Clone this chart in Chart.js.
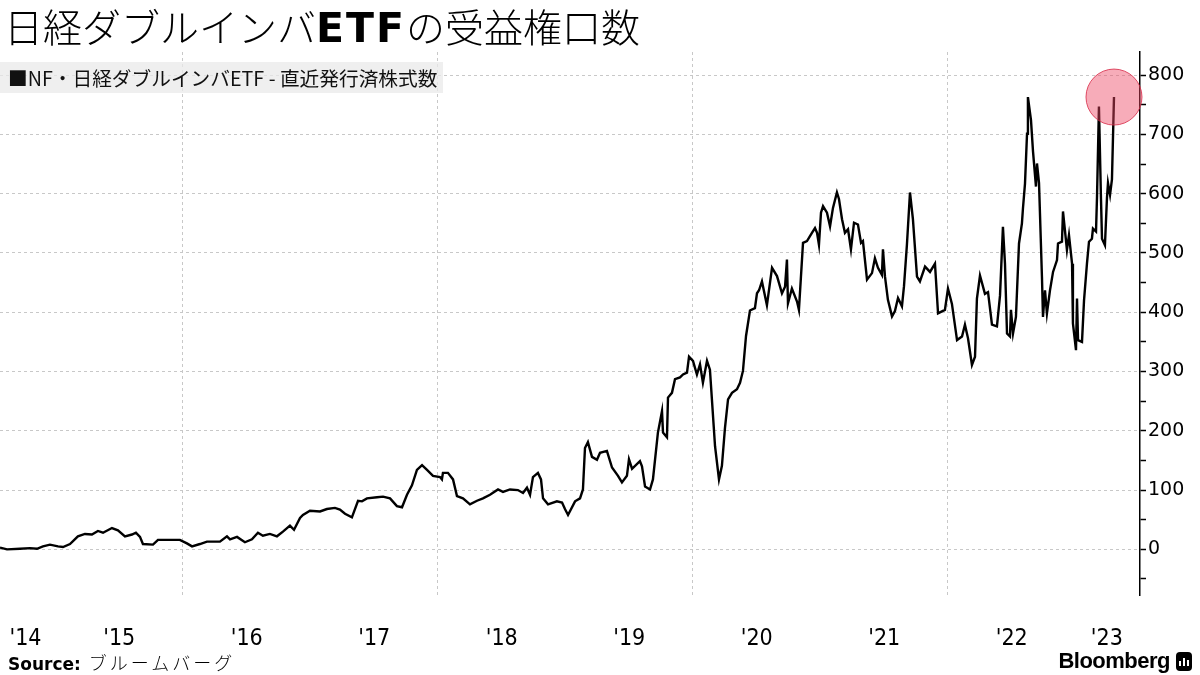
<!DOCTYPE html>
<html lang="ja">
<head>
  <meta charset="UTF-8">
  <title>日経ダブルインバETFの受益権口数</title>
  <script src="https://cdn.jsdelivr.net/npm/chart.js"></script>
  <style>
    body {
      margin: 0;
      width: 1200px;
      height: 675px;
      background: #fff;
      overflow: hidden;
      position: relative;
      font-family: 'Noto Sans CJK JP', sans-serif;
    }
    #wrap {
      position: absolute;
      left: 0;
      top: 0;
      width: 1200px;
      height: 675px;
    }
    .title {
      position: absolute;
      left: 4px;
      top: 0;
      font-size: 39px;
      line-height: 50px;
      font-weight: 300;
      color: #000;
      white-space: nowrap;
    }
    .title b {
      font-family: 'DejaVu Sans', sans-serif;
      font-weight: bold;
      font-size: 41px;
      letter-spacing: 2px;
    }
    .legend {
      position: absolute;
      left: 0;
      top: 62px;
      width: 443px;
      height: 31px;
      padding-left: 8px;
      box-sizing: border-box;
      background: rgba(234, 234, 234, 0.75);
      font-size: 19.7px;
      line-height: 31px;
      color: #111;
      white-space: nowrap;
    }
    .source {
      position: absolute;
      left: 8px;
      top: 650px;
      font-size: 18px;
      line-height: 24px;
      white-space: nowrap;
    }
    .source b {
      font-family: 'DejaVu Sans', sans-serif;
      font-size: 17px;
      margin-right: 8px;
    }
    .source span { letter-spacing: 3px; font-weight: 300; }
    .brand {
      position: absolute;
      right: 8px;
      top: 648px;
      font-family: 'Liberation Sans', Arial, sans-serif;
      font-weight: bold;
      font-size: 22px;
      line-height: 26px;
      letter-spacing: -0.5px;
      white-space: nowrap;
    }
    .logo {
      display: inline-block;
      width: 16px;
      height: 19px;
      margin-left: 6px;
      background: #000;
      border-radius: 4px;
      vertical-align: -3px;
      position: relative;
    }
    .logo i {
      position: absolute;
      bottom: 5px;
      width: 2px;
      background: #fff;
    }
  </style>
</head>
<body>
  <div id="wrap"><canvas id="chart"></canvas></div>
  <div class="title">日経ダブルインバ<b>ETF</b>の受益権口数</div>
  <div class="legend">■NF・日経ダブルインバETF - 直近発行済株式数</div>
  <div class="source"><b>Source:</b><span>ブルームバーグ</span></div>
  <div class="brand">Bloomberg<span class="logo"><i style="left:3px;height:5px"></i><i style="left:7px;height:8px"></i><i style="left:11px;height:6px"></i></span></div>

  <script>
    // dates as decimal years
    const dates = [
      2014.565, 2014.620, 2014.722, 2014.800, 2014.855, 2014.902, 2014.957, 2015.020, 2015.059, 2015.114,
      2015.176, 2015.231, 2015.286, 2015.333, 2015.373, 2015.443, 2015.490, 2015.545, 2015.600, 2015.631,
      2015.663, 2015.686, 2015.765, 2015.804, 2015.976, 2016.031, 2016.071, 2016.133, 2016.188, 2016.290,
      2016.345, 2016.369, 2016.424, 2016.486, 2016.541, 2016.588, 2016.627, 2016.682, 2016.737, 2016.784,
      2016.839, 2016.871, 2016.918, 2016.941, 2016.996, 2017.075, 2017.129, 2017.192, 2017.231, 2017.271,
      2017.325, 2017.373, 2017.404, 2017.443, 2017.522, 2017.569, 2017.624, 2017.678, 2017.718, 2017.757,
      2017.796, 2017.835, 2017.875, 2017.914, 2017.961, 2018.016, 2018.031, 2018.039, 2018.078, 2018.118,
      2018.149, 2018.196, 2018.251, 2018.306, 2018.353, 2018.408, 2018.471, 2018.510, 2018.565, 2018.627,
      2018.667, 2018.698, 2018.722, 2018.745, 2018.784, 2018.808, 2018.824, 2018.863, 2018.933, 2018.973,
      2018.996, 2019.020, 2019.075, 2019.114, 2019.137, 2019.153, 2019.176, 2019.208, 2019.247, 2019.271,
      2019.325, 2019.365, 2019.412, 2019.443, 2019.482, 2019.498, 2019.522, 2019.584, 2019.600, 2019.624,
      2019.663, 2019.686, 2019.725, 2019.757, 2019.765, 2019.796, 2019.804, 2019.835, 2019.859, 2019.898,
      2019.922, 2019.953, 2019.969, 2020.000, 2020.031, 2020.055, 2020.078, 2020.110, 2020.133, 2020.173,
      2020.204, 2020.227, 2020.251, 2020.275, 2020.306, 2020.345, 2020.369, 2020.392, 2020.416, 2020.447,
      2020.486, 2020.502, 2020.518, 2020.541, 2020.580, 2020.620, 2020.659, 2020.698, 2020.722, 2020.737,
      2020.745, 2020.776, 2020.816, 2020.831, 2020.863, 2020.894, 2020.933, 2020.957, 2020.973, 2020.988,
      2021.004, 2021.020, 2021.051, 2021.075, 2021.098, 2021.129, 2021.145, 2021.169, 2021.192, 2021.216,
      2021.239, 2021.263, 2021.294, 2021.318, 2021.333, 2021.365, 2021.404, 2021.427, 2021.451, 2021.482,
      2021.490, 2021.506, 2021.529, 2021.561, 2021.584, 2021.608, 2021.639, 2021.655, 2021.678, 2021.702,
      2021.725, 2021.757, 2021.780, 2021.820, 2021.859, 2021.898, 2021.922, 2021.976, 2022.000, 2022.031,
      2022.071, 2022.110, 2022.133, 2022.157, 2022.188, 2022.212, 2022.227, 2022.251, 2022.290, 2022.314,
      2022.345, 2022.384, 2022.408, 2022.431, 2022.447, 2022.463, 2022.486, 2022.494, 2022.510, 2022.533,
      2022.557, 2022.580, 2022.588, 2022.604, 2022.620, 2022.627, 2022.651, 2022.667, 2022.690, 2022.698,
      2022.714, 2022.737, 2022.745, 2022.761, 2022.776, 2022.800, 2022.824, 2022.855, 2022.863, 2022.894,
      2022.902, 2022.933, 2022.949, 2022.973, 2022.980, 2023.004, 2023.012, 2023.020, 2023.051, 2023.067,
      2023.090, 2023.106, 2023.129, 2023.137, 2023.161, 2023.169, 2023.184, 2023.200, 2023.208, 2023.231,
      2023.247, 2023.255, 2023.271, 2023.286, 2023.302
    ];
    // shares outstanding (millions)
    const shares = [
      3, 0, 1, 2, 1, 5, 8, 5, 4, 9,
      22, 26, 25, 31, 28, 36, 32, 22, 25, 28,
      21, 9, 8, 16, 16, 10, 5, 9, 13, 13,
      22, 17, 21, 12, 17, 28, 23, 26, 22, 30,
      40, 33, 53, 58, 65, 64, 68, 70, 67, 60,
      54, 82, 81, 86, 88, 89, 86, 73, 71, 92,
      108, 134, 142, 134, 124, 122, 118, 129, 129, 118,
      90, 86, 76, 82, 86, 92, 101, 97, 101, 100,
      95, 104, 92, 122, 129, 118, 86, 76, 81, 79,
      68, 58, 81, 86, 101, 171, 181, 156, 151, 163,
      166, 138, 124, 113, 124, 152, 136, 149, 140, 106,
      101, 118, 197, 233, 197, 189, 256, 264, 287, 290,
      295, 298, 325, 318, 295, 312, 281, 318, 303, 174,
      118, 141, 205, 253, 264, 270, 281, 301, 360, 403,
      407, 432, 437, 452, 412, 475, 461, 432, 443, 489,
      415, 440, 418, 404, 517, 520, 534, 542, 534, 514,
      568, 579, 568, 545, 576, 602, 591, 557, 534, 540,
      506, 551, 548, 517, 520, 455, 466, 491, 475, 463,
      506, 460, 421, 393, 402, 424, 410, 444, 514, 602,
      557, 460, 452, 477, 468, 482, 398, 404, 440, 414,
      353, 359, 379, 356, 311, 325, 423, 462, 431, 434,
      379, 376, 428, 544, 482, 364, 359, 404, 364, 392,
      516, 550, 575, 617, 701, 763, 724, 671, 612, 651,
      618, 460, 392, 437, 398, 437, 468, 488, 516, 519,
      570, 505, 530, 482, 381, 336, 423, 353, 350, 420,
      482, 519, 524, 541, 536, 596, 747, 591, 524, 513,
      593, 618, 598, 624, 763
    ];

    const yearTicks = [2014, 2015, 2016, 2017, 2018, 2019, 2020, 2021, 2022, 2023];
    const yearLabels = ["'14", "'15", "'16", "'17", "'18", "'19", "'20", "'21", "'22", "'23"];
    const gridYears = [2016, 2018, 2020, 2022];
    const yTicks = [-50, 0, 50, 100, 150, 200, 250, 300, 350, 400, 450, 500, 550, 600, 650, 700, 750, 800];

    const xMin = 2014.565, xMax = 2023.506;
    const last = shares.length - 1;

    // keep the x axes from pushing the plot inward for edge labels
    const noSidePad = s => { s.paddingLeft = 0; s.paddingRight = 0; };

    new Chart(document.getElementById('chart'), {
      type: 'line',
      data: {
        datasets: [{
          data: dates.map((d, i) => ({ x: d, y: shares[i] })),
          borderColor: '#000',
          borderWidth: 2.4,
          tension: 0,
          pointRadius: ctx => ctx.dataIndex === last ? 28 : 0,
          pointBackgroundColor: 'rgba(238, 70, 100, 0.45)',
          pointBorderColor: 'rgba(215, 40, 70, 0.8)',
          pointBorderWidth: 1,
          clip: false
        }]
      },
      options: {
        responsive: true,
        maintainAspectRatio: false,
        animation: false,
        layout: { autoPadding: false, padding: { top: 52, left: 0, right: 0, bottom: 0 } },
        plugins: { legend: { display: false }, tooltip: { enabled: false } },
        scales: {
          x: {
            type: 'linear',
            min: xMin,
            max: xMax,
            afterBuildTicks: s => { s.ticks = gridYears.map(v => ({ value: v })); },
            afterFit: s => { s.height = 0; noSidePad(s); },
            ticks: { display: false },
            grid: { color: '#c8c8c8', drawTicks: false },
            border: { display: false, dash: [3, 3] }
          },
          x2: {
            type: 'linear',
            position: 'bottom',
            min: xMin,
            max: xMax,
            afterBuildTicks: s => {
              s.ticks = yearTicks.map(y => ({ value: Math.min(Math.max(y + 0.5, xMin + 0.2), xMax - 0.26) }));
            },
            afterFit: s => { s.height = 80; noSidePad(s); },
            grid: { display: false },
            border: { display: false },
            ticks: {
              autoSkip: false,
              maxRotation: 0,
              padding: 22,
              color: '#000',
              font: { family: "'DejaVu Sans Condensed', 'Liberation Sans Narrow', 'Roboto', sans-serif", size: 23 },
              callback: (v, i) => yearLabels[i]
            }
          },
          y: {
            position: 'right',
            min: -77,
            max: 839,
            afterBuildTicks: s => { s.ticks = yTicks.map(v => ({ value: v })); },
            afterFit: s => { s.width = 60; },
            grid: {
              color: c => c.tick && c.tick.value % 100 === 0 ? '#c8c8c8' : 'rgba(0,0,0,0)',
              tickColor: '#000',
              tickLength: 6,
              tickWidth: 1.5
            },
            border: { color: '#000', width: 1.5, dash: [3, 3] },
            ticks: {
              padding: 2,
              color: '#000',
              font: { family: "'DejaVu Sans', sans-serif", size: 19 },
              callback: v => v % 100 === 0 ? String(v) : ''
            }
          }
        }
      }
    });
  </script>
</body>
</html>
